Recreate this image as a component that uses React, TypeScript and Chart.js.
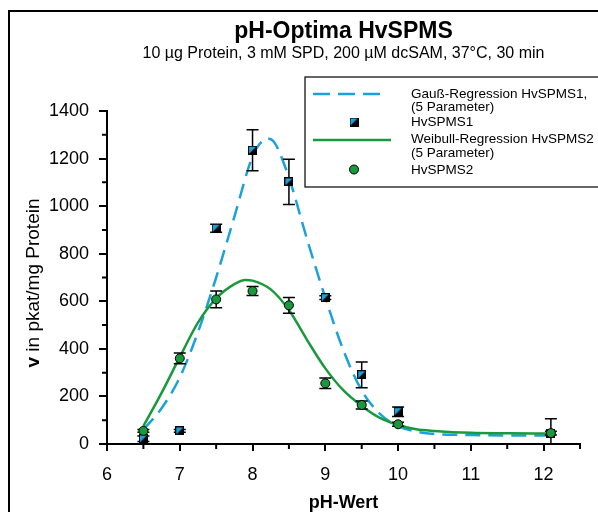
import React, { useEffect, useRef } from 'react';
import { Chart, registerables } from 'chart.js';

Chart.register(...registerables);

// ---- data ----
const phValues = [6.5, 7, 7.5, 8, 8.5, 9, 9.5, 10, 12.1];
const spms1Values = [22, 55, 907, 1235, 1102, 615, 291, 136, 46];
const spms1Errors = [12, 6, 17, 86, 95, 8, 54, 20, 60];
const spms2Values = [55, 360, 608, 643, 583, 255, 164, 83, 46];
const spms2Errors = [6, 23, 35, 19, 33, 22, 17, 8, 8];

const gaussX = [6.5, 6.75, 7, 7.25, 7.5, 7.75, 8, 8.1, 8.2, 8.3, 8.5, 8.75, 9, 9.25, 9.5, 9.75, 10, 10.25, 10.5, 11, 11.5, 12.1];
const gaussY = [60, 150, 280, 470, 700, 955, 1210, 1262, 1285, 1268, 1120, 860, 615, 393, 225, 127, 75, 52, 42, 38, 36, 36];
const weibullX = [6.5, 6.75, 7, 7.25, 7.5, 7.75, 7.9, 8, 8.25, 8.5, 8.75, 9, 9.25, 9.5, 9.75, 10, 10.25, 10.5, 11, 11.5, 12.1];
const weibullY = [75, 215, 365, 510, 612, 672, 690, 687, 650, 563, 437, 318, 225, 160, 110, 80, 62, 55, 47, 45, 44];

const xMin = 6;
const xMax = 12.5;
const yMin = 0;
const yMax = 1400;
const xMinorTicks = [6.5, 7.5, 8.5, 9.5, 10.5, 11.5, 12.5];
const yMinorTicks = [100, 300, 500, 700, 900, 1100, 1300];

const titleText = 'pH-Optima HvSPMS';
const subtitleText = '10 µg Protein, 3 mM SPD, 200 µM dcSAM, 37°C, 30 min';
const xTitle = 'pH-Wert';
const yTitleBold = 'v';
const yTitleRest = ' in pkat/mg Protein';
const legendGauss = ['Gauß-Regression HvSPMS1,', '(5 Parameter)'];
const legendS1 = 'HvSPMS1';
const legendWeibull = ['Weibull-Regression HvSPMS2', '(5 Parameter)'];
const legendS2 = 'HvSPMS2';

const BLUE = '#1ba1dc';
const GREEN = '#189a3c';
const FONT = '"Liberation Sans", Arial, sans-serif';

function makeSquare(): HTMLCanvasElement {
  const c = document.createElement('canvas');
  c.width = 9;
  c.height = 9;
  const g = c.getContext('2d')!;
  g.fillStyle = '#000';
  g.fillRect(0, 0, 9, 9);
  g.fillStyle = BLUE;
  g.beginPath();
  g.moveTo(1, 1);
  g.lineTo(8, 1);
  g.lineTo(1, 8);
  g.closePath();
  g.fill();
  return c;
}

export default function App() {
  const ref = useRef<HTMLCanvasElement | null>(null);

  useEffect(() => {
    if (!ref.current) return;
    const square = makeSquare();

    const decor = {
      id: 'decor',
      beforeDatasetDraw(chart: any, args: any) {
        const ds = chart.data.datasets[args.index];
        if (!ds.errors) return;
        const ctx = chart.ctx;
        const xs = chart.scales.x;
        const ys = chart.scales.y;
        ctx.save();
        ctx.strokeStyle = '#000';
        ctx.lineWidth = 1.5;
        ds.data.forEach((p: any, i: number) => {
          const e = ds.errors[i];
          const px = xs.getPixelForValue(p.x);
          const hi = p.y + e;
          const lo = p.y - e;
          const top = ys.getPixelForValue(hi);
          const bot = ys.getPixelForValue(Math.max(lo, 0));
          ctx.beginPath();
          ctx.moveTo(px, top);
          ctx.lineTo(px, bot);
          ctx.moveTo(px - 6, top);
          ctx.lineTo(px + 6, top);
          if (lo >= 0) {
            ctx.moveTo(px - 6, bot);
            ctx.lineTo(px + 6, bot);
          }
          ctx.stroke();
        });
        ctx.restore();
      },
      afterDraw(chart: any) {
        const ctx = chart.ctx;
        const xs = chart.scales.x;
        const ys = chart.scales.y;
        const area = chart.chartArea;
        ctx.save();
        // minor ticks
        ctx.strokeStyle = '#000';
        ctx.lineWidth = 2;
        ctx.beginPath();
        yMinorTicks.forEach((v) => {
          const py = ys.getPixelForValue(v);
          ctx.moveTo(area.left - 5, py);
          ctx.lineTo(area.left, py);
        });
        xMinorTicks.forEach((v) => {
          const px = xs.getPixelForValue(v);
          ctx.moveTo(px, area.bottom);
          ctx.lineTo(px, area.bottom + 5);
        });
        ctx.stroke();

        // frame
        ctx.beginPath();
        ctx.moveTo(9, 512);
        ctx.lineTo(9, 11);
        ctx.lineTo(598, 11);
        ctx.stroke();

        const cx = (area.left + area.right) / 2;
        ctx.fillStyle = '#000';
        ctx.textAlign = 'center';
        ctx.textBaseline = 'middle';
        ctx.font = `bold 23px ${FONT}`;
        ctx.fillText(titleText, cx, 32);
        ctx.font = `16px ${FONT}`;
        ctx.fillText(subtitleText, cx, 54);

        // x title
        ctx.font = `bold 18px ${FONT}`;
        ctx.fillText(xTitle, cx, 503);

        // y title
        ctx.save();
        ctx.translate(34, 283);
        ctx.rotate(-Math.PI / 2);
        ctx.font = `bold 19px ${FONT}`;
        const wB = ctx.measureText(yTitleBold).width;
        ctx.font = `19px ${FONT}`;
        const wR = ctx.measureText(yTitleRest).width;
        const start = -(wB + wR) / 2;
        ctx.textAlign = 'left';
        ctx.font = `bold 19px ${FONT}`;
        ctx.fillText(yTitleBold, start, 0);
        ctx.font = `19px ${FONT}`;
        ctx.fillText(yTitleRest, start + wB, 0);
        ctx.restore();

        // legend
        ctx.lineWidth = 1.2;
        ctx.strokeStyle = '#000';
        ctx.strokeRect(305, 77, 300, 110);
        ctx.lineWidth = 2.5;
        ctx.strokeStyle = BLUE;
        ctx.setLineDash([17, 8]);
        ctx.beginPath();
        ctx.moveTo(313, 94);
        ctx.lineTo(384, 94);
        ctx.stroke();
        ctx.setLineDash([]);
        ctx.strokeStyle = GREEN;
        ctx.beginPath();
        ctx.moveTo(313, 140);
        ctx.lineTo(391, 140);
        ctx.stroke();
        ctx.drawImage(square, 354 - 4.5, 122 - 4.5);
        ctx.beginPath();
        ctx.arc(354, 169.5, 4.5, 0, Math.PI * 2);
        ctx.fillStyle = GREEN;
        ctx.fill();
        ctx.lineWidth = 1;
        ctx.strokeStyle = '#000';
        ctx.stroke();

        ctx.fillStyle = '#000';
        ctx.textAlign = 'left';
        ctx.font = `13.5px ${FONT}`;
        ctx.fillText(legendGauss[0], 411, 94);
        ctx.fillText(legendGauss[1], 411, 107.5);
        ctx.fillText(legendS1, 411, 122.5);
        ctx.fillText(legendWeibull[0], 411, 139.5);
        ctx.fillText(legendWeibull[1], 411, 153);
        ctx.fillText(legendS2, 411, 170);
        ctx.restore();
      },
    };

    const chart = new Chart(ref.current, {
      type: 'scatter',
      data: {
        datasets: [
          {
            label: 'Gauß-Regression HvSPMS1',
            data: gaussX.map((x, i) => ({ x, y: gaussY[i] })),
            showLine: true,
            borderColor: BLUE,
            borderWidth: 2.5,
            borderDash: [15, 8],
            pointRadius: 0,
            cubicInterpolationMode: 'monotone',
            order: 4,
          } as any,
          {
            label: 'Weibull-Regression HvSPMS2',
            data: weibullX.map((x, i) => ({ x, y: weibullY[i] })),
            showLine: true,
            borderColor: GREEN,
            borderWidth: 2.5,
            pointRadius: 0,
            cubicInterpolationMode: 'monotone',
            order: 3,
          } as any,
          {
            label: legendS1,
            data: phValues.map((x, i) => ({ x, y: spms1Values[i] })),
            errors: spms1Errors,
            pointStyle: square,
            pointRadius: 4.5,
            order: 2,
          } as any,
          {
            label: legendS2,
            data: phValues.map((x, i) => ({ x, y: spms2Values[i] })),
            errors: spms2Errors,
            pointStyle: 'circle',
            pointRadius: 4.5,
            backgroundColor: GREEN,
            borderColor: '#000',
            borderWidth: 1,
            order: 1,
          } as any,
        ],
      },
      options: {
        responsive: false,
        animation: false,
        events: [],
        layout: { padding: { left: 0, right: 18, top: 111, bottom: 28 } },
        plugins: {
          legend: { display: false },
          tooltip: { enabled: false },
          title: { display: false },
        },
        scales: {
          x: {
            type: 'linear',
            min: xMin,
            max: xMax,
            afterFit: (s: any) => {
              s.height = 40;
            },
            border: { display: true, color: '#000', width: 2 },
            grid: { drawOnChartArea: false, drawTicks: true, tickLength: 7, color: '#000', lineWidth: 2 },
            ticks: {
              stepSize: 1,
              includeBounds: false,
              color: '#000',
              padding: 13,
              font: { family: FONT, size: 18 },
              maxRotation: 0,
              callback: (v: any) => String(v),
            },
          },
          y: {
            type: 'linear',
            min: yMin,
            max: yMax,
            afterFit: (s: any) => {
              s.width = 107;
            },
            border: { display: true, color: '#000', width: 2 },
            grid: { drawOnChartArea: false, drawTicks: true, tickLength: 8, color: '#000', lineWidth: 2 },
            ticks: {
              stepSize: 200,
              color: '#000',
              padding: 10,
              font: { family: FONT, size: 18 },
              callback: (v: any) => String(v),
            },
          },
        },
      } as any,
      plugins: [decor],
    });
    return () => chart.destroy();
  }, []);

  return (
    <div style={{ position: 'absolute', left: 0, top: 0, width: 598, height: 512, background: '#fff' }}>
      <canvas ref={ref} width={598} height={512} />
    </div>
  );
}
